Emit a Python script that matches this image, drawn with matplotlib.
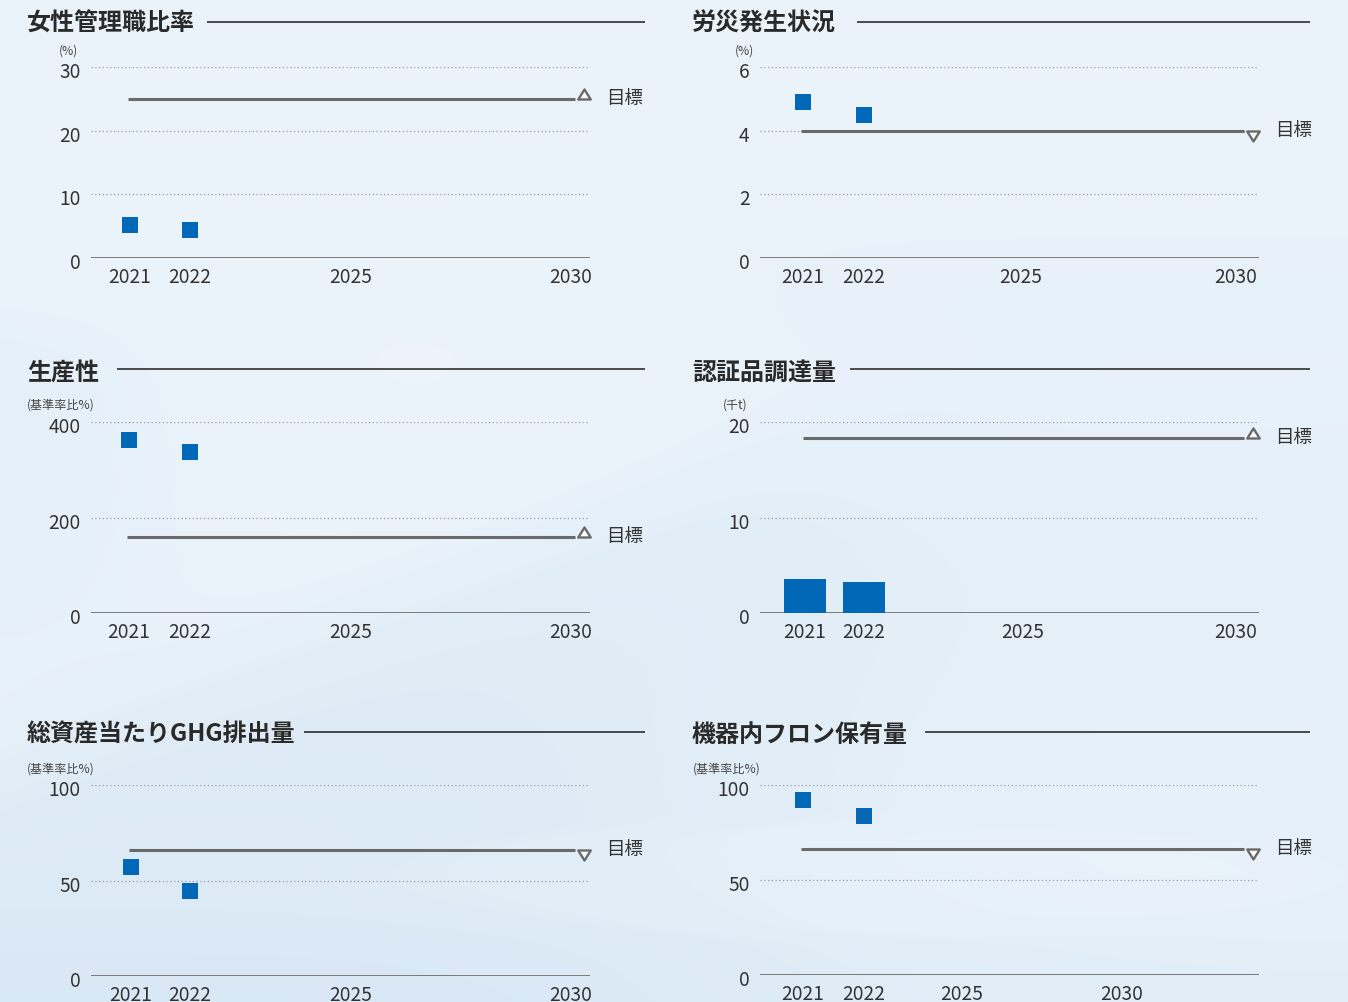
import numpy as np
import matplotlib
matplotlib.use("Agg")
import matplotlib.pyplot as plt
from matplotlib.path import Path
from matplotlib.transforms import ScaledTranslation

plt.rcParams['font.family'] = ['Noto Sans CJK JP', 'DejaVu Sans']

# ---------------- data ----------------
years = ['2021', '2022', '2025', '2030']
actual_years = 2  # 2021, 2022 have results

titles = ['女性管理職比率', '労災発生状況', '生産性',
          '認証品調達量', '総資産当たりGHG排出量', '機器内フロン保有量']
units = ['(%)', '(%)', '(基準率比%)', '(千t)', '(基準率比%)', '(基準率比%)']
target_label = '目標'

women_ratio = [5.2, 4.3]
women_target = 25
accident_rate = [4.9, 4.5]
accident_target = 4.0
productivity = [363, 338]
productivity_target = 160
certified = [3.6, 3.2]
certified_target = 18.4
ghg = [57, 44.5]
ghg_target = 66
freon = [92, 83.5]
freon_target = 66

yticks_women = [0, 10, 20, 30]
yticks_accident = [0, 2, 4, 6]
yticks_productivity = [0, 200, 400]
yticks_certified = [0, 10, 20]
yticks_ghg = [0, 50, 100]
yticks_freon = [0, 50, 100]

series = [women_ratio, accident_rate, productivity, certified, ghg, freon]
targets = [women_target, accident_target, productivity_target,
           certified_target, ghg_target, freon_target]
tick_sets = [yticks_women, yticks_accident, yticks_productivity,
             yticks_certified, yticks_ghg, yticks_freon]
target_dir = ['up', 'down', 'up', 'up', 'down', 'down']
kinds = ['square', 'square', 'square', 'bar', 'square', 'square']

# ---------------- layout (pixels) ----------------
W, H, DPI = 1348, 1002, 100
layout = [
    dict(L=91, R=590, y0=257.7, yt=67.0, xs=[130, 190, 351, 571],
         title=(27, 24), tl=(207, 645, 22.3), unit=(69, 51, 'center')),
    dict(L=760, R=1259, y0=257.7, yt=67.0, xs=[803, 864, 1021, 1236],
         title=(692, 24), tl=(857, 1310, 22.3), unit=(744, 51, 'center')),
    dict(L=91, R=590, y0=613.0, yt=422.3, xs=[129, 190, 351, 571],
         title=(27, 373), tl=(117, 645, 369.3), unit=(27, 405.5, 'left')),
    dict(L=760, R=1259, y0=613.0, yt=422.3, xs=[805, 864, 1023, 1236],
         title=(692, 373), tl=(850, 1310, 369.3), unit=(735, 405, 'center')),
    dict(L=91, R=590, y0=975.7, yt=785.3, xs=[131, 190, 351, 571],
         title=(27, 735), tl=(304, 645, 732.3), unit=(27, 769, 'left')),
    dict(L=760, R=1259, y0=975.0, yt=784.7, xs=[803, 864, 962, 1122],
         title=(692, 735), tl=(925, 1310, 732.3), unit=(693, 768.7, 'left')),
]

BLUE = '#0068b7'
TGRAY = '#6a6a6a'
AXGRAY = '#7a7a7a'
TXT = '#333333'

fig = plt.figure(figsize=(W / DPI, H / DPI), dpi=DPI)

# ---------------- background ----------------
bg = fig.add_axes([0, 0, 1, 1], zorder=0)
bg.set_xlim(0, W)
bg.set_ylim(H, 0)
bg.axis('off')

yy, xx = np.mgrid[0:H, 0:W].astype(float)


def sig(d, s):
    return 1.0 / (1.0 + np.exp(-d / s))


light = np.array([0.945, 0.968, 0.988])
dark = np.array([0.835, 0.902, 0.955])
t = 0.18 + 0.22 * (yy / H)
t += 0.30 * sig(yy - 320, 30) * sig(140 - xx, 60) * sig(620 - yy, 60)
t += 0.35 * sig(yy - (760 - 0.40 * xx), 30) * sig(760 - xx, 120)
t -= 0.10 * sig((760 - 0.40 * xx) - yy, 40) * sig(yy - 280, 40) * sig(700 - xx, 80)
t += 0.12 * sig(yy - (500 - 0.13 * (xx - 680)), 40) * sig(xx - 680, 60) * sig(700 - yy, 60)
t += 0.10 * sig(yy - 230, 30) * sig(xx - 700, 60) * sig(340 - yy, 30)
dome = ((xx - 850) / 480) ** 2 + ((yy - 880) / 55) ** 2
t -= 0.12 * sig(1 - dome, 0.15)
t += 0.12 * sig(yy - 930, 25)
t = np.clip(t, 0, 1)
img = light[None, None, :] * (1 - t[..., None]) + dark[None, None, :] * t[..., None]
bg.imshow(img, extent=(0, W, H, 0), aspect='auto', interpolation='bilinear', zorder=0)

# triangle marker paths (base centred on the point)
tri_up = Path([(-1, 0), (1, 0), (0, 1.6), (-1, 0)], closed=True)
tri_down = Path([(-1, 0), (1, 0), (0, -1.6), (-1, 0)], closed=True)

for i, lay in enumerate(layout):
    bg.text(lay['title'][0], lay['title'][1], titles[i], fontsize=17.3,
            fontweight='bold', color='#2a2a2a', ha='left', va='center', zorder=2)
    x0, x1, yl = lay['tl']
    bg.plot([x0, x1], [yl, yl], color='#1e1e1e', lw=1.1, zorder=2,
            solid_capstyle='butt')
    ux, uy, uha = lay['unit']
    bg.text(ux, uy, units[i], fontsize=8.7, color='#444444', ha=uha,
            va='center', zorder=2)

    L, R, y0, yt = lay['L'], lay['R'], lay['y0'], lay['yt']
    ax = fig.add_axes([L / W, 1 - y0 / H, (R - L) / W, (y0 - yt) / H], zorder=1)
    ax.patch.set_alpha(0)
    ticks = tick_sets[i]
    ax.set_xlim(L, R)
    ax.set_ylim(0, ticks[-1])
    for sp in ax.spines.values():
        sp.set_visible(False)
    ax.set_yticks(ticks)
    ax.set_yticklabels([str(v) for v in ticks])
    ax.set_xticks(lay['xs'])
    ax.set_xticklabels(years)
    ax.tick_params(axis='both', length=0, labelsize=13.8, labelcolor=TXT)
    ax.tick_params(axis='y', pad=7.5)
    ax.tick_params(axis='x', pad=6.5)
    shift = ScaledTranslation(0, -3 / DPI, fig.dpi_scale_trans)
    for lab in ax.get_yticklabels():
        lab.set_transform(lab.get_transform() + shift)

    for v in ticks[1:]:
        ax.axhline(v, color='#9a9a9a', lw=0.9, ls=(0, (1, 2)), zorder=1)
    ax.axhline(0, color=AXGRAY, lw=1.4, zorder=2)

    xs_data = lay['xs'][:actual_years]
    vals = series[i]
    if kinds[i] == 'bar':
        ax.bar(xs_data, vals, width=42, color=BLUE, zorder=3)
    else:
        ax.plot(xs_data, vals, ls='none', marker='s', markersize=11.7,
                markeredgewidth=0, color=BLUE, zorder=3)

    tv = targets[i]
    ax.plot([lay['xs'][0] - 2, R - 15], [tv, tv], color=TGRAY, lw=2.2,
            solid_capstyle='butt', zorder=2)
    ax.plot([R - 5.5], [tv], ls='none',
            marker=tri_up if target_dir[i] == 'up' else tri_down,
            markersize=14.4, markerfacecolor='#f7fafd', markeredgecolor=TGRAY,
            markeredgewidth=1.7, clip_on=False, zorder=4)
    ax.text(R + 16.5, tv, target_label, fontsize=13.3, color=TXT,
            ha='left', va='center', clip_on=False)

fig.savefig('out.png', dpi=DPI)
